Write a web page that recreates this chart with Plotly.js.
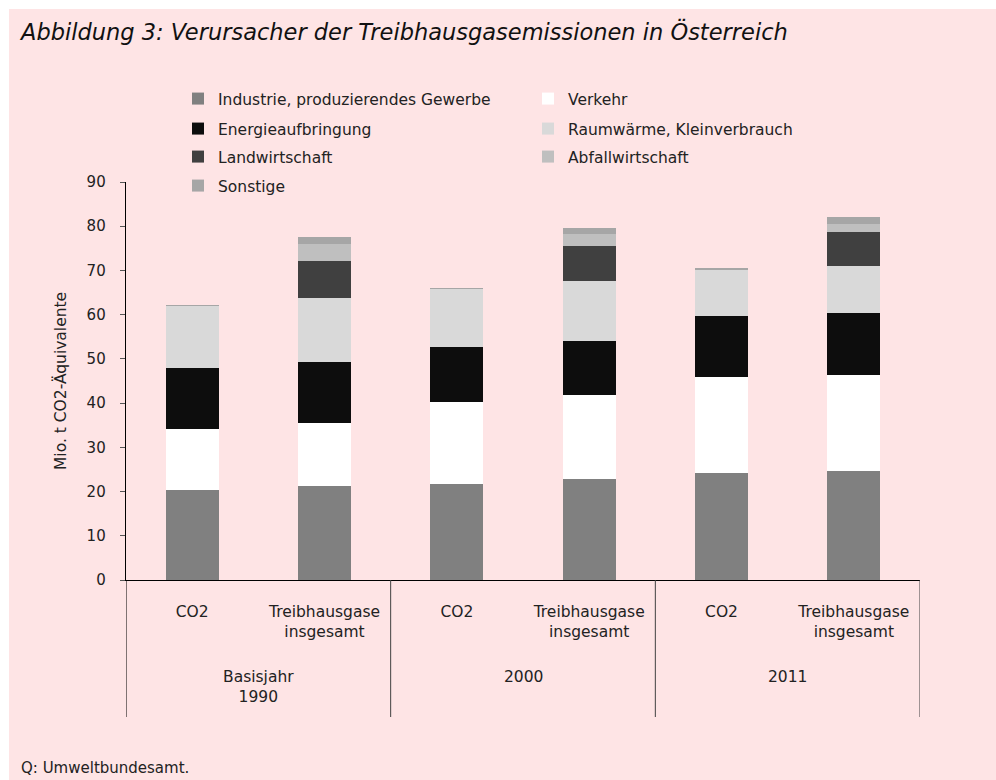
<!DOCTYPE html>
<html>
<head>
<meta charset="utf-8">
<script src="https://cdn.plot.ly/plotly-3.0.1.min.js"></script>
<style>html,body{margin:0;padding:0;background:#fff;}#chart{width:996px;height:780px;}</style>
</head>
<body>
<div id="chart"></div>
<script>
// ---- data ----
const groups = ['Basisjahr<br>1990', '2000', '2011'];
const subcats = ['CO2', 'Treibhausgase<br>insgesamt'];
const seriesNames = ['Industrie, produzierendes Gewerbe', 'Verkehr', 'Energieaufbringung',
  'Raumwärme, Kleinverbrauch', 'Landwirtschaft', 'Abfallwirtschaft', 'Sonstige'];
const industrie   = [20.4, 21.3, 21.6, 22.8, 24.3, 24.7];
const verkehr     = [13.7, 14.1, 18.7, 19.0, 21.6, 21.6];
const energie     = [13.8, 13.8, 12.3, 12.3, 13.8, 14.0];
const raumwaerme  = [14.1, 14.5, 13.2, 13.6, 10.4, 10.8];
const landwirt    = [0.0, 8.5, 0.0, 7.9, 0.0, 7.6];
const abfall      = [0.0, 3.8, 0.0, 2.7, 0.0, 1.8];
const sonstige    = [0.3, 1.5, 0.3, 1.2, 0.4, 1.6];
const yTicks = [0, 10, 20, 30, 40, 50, 60, 70, 80, 90];

// ---- styling ----
const colors = ['#808080', '#ffffff', '#0d0d0d', '#d9d9d9', '#404040', '#bfbfbf', '#a6a6a6'];
const legendIds = ['legend', 'legend', 'legend2', 'legend2', 'legend3', 'legend3', 'legend4'];
const values = [industrie, verkehr, energie, raumwaerme, landwirt, abfall, sonstige];
const FONT = 'DejaVu Sans, sans-serif';
const TXT = '#222222';

// category positions built from groups x subcats
const xPos = [], xText = [];
groups.forEach((g, gi) => subcats.forEach((s, si) => { xPos.push(gi * subcats.length + si); xText.push(s); }));

const traces = seriesNames.map((name, i) => ({
  type: 'bar', name: name, x: xPos, y: values[i],
  marker: {color: colors[i], line: {width: 0}},
  legend: legendIds[i], hoverinfo: 'y+name'
}));

// plot area in px
const L = 126, R = 76, T = 182, B = 200, W = 996, H = 780;
const pw = W - L - R, ph = H - T - B;
const px2x = p => (p - L) / pw;
const py2y = p => (H - B - p) / ph;

const shapes = [
  {type: 'rect', xref: 'paper', yref: 'paper', x0: px2x(9), x1: px2x(W + 5), y0: py2y(H + 5), y1: py2y(9),
   fillcolor: '#fee4e5', line: {width: 0}, layer: 'below'}
];
// group dividers
for (let gi = 0; gi <= groups.length; gi++) {
  shapes.push({type: 'line', xref: 'x', yref: 'paper', x0: gi * subcats.length - 0.5, x1: gi * subcats.length - 0.5,
    y0: 0, y1: py2y(717), line: {color: gi === 0 ? '#000000' : '#404040', width: 1}});
}

const annotations = groups.map((g, gi) => ({
  text: g, xref: 'x', yref: 'paper', x: gi * subcats.length + (subcats.length - 1) / 2, y: py2y(666),
  xanchor: 'center', yanchor: 'top', showarrow: false, font: {family: FONT, size: 15.5, color: TXT}
}));
annotations.push({text: 'Mio. t CO2-Äquivalente', xref: 'paper', yref: 'paper', x: px2x(60), y: 0.5,
  textangle: -90, xanchor: 'center', yanchor: 'middle', showarrow: false, font: {family: FONT, size: 15.5, color: TXT}});
annotations.push({text: 'Q: Umweltbundesamt.', xref: 'paper', yref: 'paper', x: px2x(19), y: py2y(768),
  xanchor: 'left', yanchor: 'middle', showarrow: false, font: {family: FONT, size: 15, color: TXT}});

const legendBase = (rowY) => ({
  orientation: 'h', x: px2x(178), xanchor: 'left', y: py2y(rowY), yanchor: 'middle',
  bgcolor: 'rgba(0,0,0,0)', entrywidth: 305, entrywidthmode: 'pixels', traceorder: 'normal',
  font: {family: FONT, size: 15.5, color: TXT}
});

const layout = {
  width: W, height: H,
  margin: {l: L, r: R, t: T, b: B, pad: 0},
  paper_bgcolor: '#ffffff', plot_bgcolor: 'rgba(0,0,0,0)',
  barmode: 'stack', bargap: 0.6,
  title: {text: 'Abbildung 3: Verursacher der Treibhausgasemissionen in Österreich',
    xref: 'container', yref: 'container', x: 21 / W, xanchor: 'left', y: 1 - 32 / H, yanchor: 'middle',
    font: {family: FONT, size: 22.5, color: '#111111', style: 'italic'}},
  xaxis: {range: [-0.5, xPos.length - 0.5], tickmode: 'array', tickvals: xPos, ticktext: xText,
    showgrid: false, zeroline: false, showline: true, linecolor: '#000000', linewidth: 1.3,
    ticks: '', ticklabelstandoff: 17, tickfont: {family: FONT, size: 15.5, color: TXT}, fixedrange: true},
  yaxis: {range: [0, 90], tickmode: 'array', tickvals: yTicks, showgrid: false, zeroline: false,
    showline: true, linecolor: '#000000', linewidth: 1.3, ticks: 'outside', ticklen: 5, tickcolor: '#555555',
    ticklabelstandoff: 11, tickfont: {family: FONT, size: 15, color: TXT}, fixedrange: true},
  showlegend: true,
  legend: legendBase(99),
  legend2: legendBase(129),
  legend3: legendBase(157),
  legend4: legendBase(186),
  shapes: shapes,
  annotations: annotations
};

Plotly.newPlot('chart', traces, layout, {displayModeBar: false, staticPlot: true});
</script>
</body>
</html>
